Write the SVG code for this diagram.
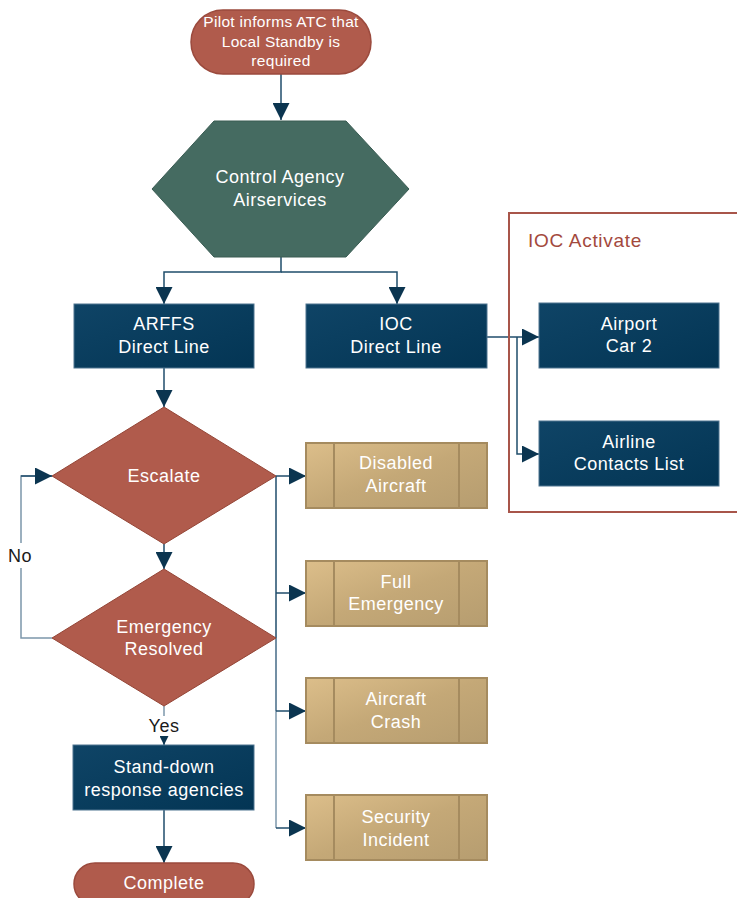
<svg xmlns="http://www.w3.org/2000/svg" width="737" height="898" viewBox="0 0 737 898">
<defs>
<linearGradient id="gBlue" x1="0" y1="0" x2="1" y2="1"><stop offset="0" stop-color="#0f4466"/><stop offset="1" stop-color="#033554"/></linearGradient>
<linearGradient id="gTan" x1="0" y1="0" x2="1" y2="1"><stop offset="0" stop-color="#dcbe8a"/><stop offset="0.5" stop-color="#c4a877"/><stop offset="1" stop-color="#b69d70"/></linearGradient>
<marker id="arr" viewBox="0 0 10 10" refX="10" refY="5" markerWidth="17" markerHeight="17" markerUnits="userSpaceOnUse" orient="auto"><path d="M0,0 L10,5 L0,10 Z" fill="#0b3550"/></marker>
<marker id="arrS" viewBox="0 0 10 10" refX="10" refY="5" markerWidth="9" markerHeight="9" markerUnits="userSpaceOnUse" orient="auto"><path d="M0,0 L10,5 L0,10 Z" fill="#0b3550"/></marker>
</defs>
<style>
text{font-family:"Liberation Sans",Arial,sans-serif;fill:#ffffff;text-anchor:middle}
.t17{font-size:18px;letter-spacing:0.5px}
.t15{font-size:15.5px;letter-spacing:0.3px}
.term{fill:#b05b4c;stroke:#9b4a3d;stroke-width:1.5}
.blue{fill:url(#gBlue);stroke:#4f7590;stroke-width:1}
.tan{fill:url(#gTan);stroke:#a58b5f;stroke-width:2}
.tanl{stroke:#a58b5f;stroke-width:2;fill:none}
.dia{fill:#b05b4c;stroke:#944536;stroke-width:1}
.con{fill:none;stroke:#1f4d6b;stroke-width:1.5}
.conl{fill:none;stroke:#7c97ab;stroke-width:1.5}
.lbl{fill:#1a1a1a}
</style>

<g id="connectors">
<path class="con" d="M281,74 V120" marker-end="url(#arr)"/>
<path class="con" d="M281,257 V272 H164 V304" marker-end="url(#arr)"/>
<path class="con" d="M281,272 H397 V304" marker-end="url(#arr)"/>
<path class="con" d="M487,337 H539" marker-end="url(#arr)"/>
<path class="con" d="M517,337 V454 H539" marker-end="url(#arr)"/>
<path class="con" d="M164,368 V407" marker-end="url(#arr)"/>
<path class="con" d="M164,544 V569" marker-end="url(#arr)"/>
<path class="conl" d="M52,638 H21 V568"/>
<path class="conl" d="M21,543 V476 H52" />
<path class="con" d="M21,476 H52" marker-end="url(#arr)"/>
<path class="conl" d="M164,706 V716"/>
<path class="con" d="M164,736 V745" marker-end="url(#arrS)"/>
<path class="con" d="M164,810 V863" marker-end="url(#arr)"/>
<path class="con" d="M276,476 V711"/>
<path class="conl" d="M276,638 V828"/>
<path class="con" d="M276,476 H306" marker-end="url(#arr)"/>
<path class="con" d="M276,593 H306" marker-end="url(#arr)"/>
<path class="con" d="M276,711 H306" marker-end="url(#arr)"/>
<path class="con" d="M276,828 H306" marker-end="url(#arr)"/>
<text class="t17 lbl" x="20" y="562">No</text>
<text class="t17 lbl" x="164" y="732">Yes</text>
</g>

<g id="ioc-activate">
<rect x="509" y="213" width="240" height="299" fill="none" stroke="#a8554a" stroke-width="2"/>
<text x="528" y="247" style="text-anchor:start;fill:#a3493d;font-size:19px;letter-spacing:0.7px">IOC Activate</text>
</g>

<g id="start">
<rect class="term" x="191" y="10" width="180" height="64" rx="32"/>
<text class="t15" x="281" y="27">Pilot informs ATC that</text>
<text class="t15" x="281" y="47">Local Standby is</text>
<text class="t15" x="281" y="66">required</text>
</g>

<g id="control-agency">
<polygon points="214,121 346,121 409,189 346,257 214,257 152,189" fill="#456b61" stroke="#3a5c53" stroke-width="1"/>
<text class="t17" x="280" y="183">Control Agency</text>
<text class="t17" x="280" y="206">Airservices</text>
</g>

<g id="arffs">
<rect class="blue" x="74" y="304" width="180" height="64"/>
<text class="t17" x="164" y="330">ARFFS</text>
<text class="t17" x="164" y="353">Direct Line</text>
</g>

<g id="ioc">
<rect class="blue" x="306" y="304" width="181" height="64"/>
<text class="t17" x="396" y="330">IOC</text>
<text class="t17" x="396" y="353">Direct Line</text>
</g>

<g id="airport-car">
<rect class="blue" x="539" y="303" width="180" height="65"/>
<text class="t17" x="629" y="330">Airport</text>
<text class="t17" x="629" y="352">Car 2</text>
</g>

<g id="airline-contacts">
<rect class="blue" x="539" y="421" width="180" height="65"/>
<text class="t17" x="629" y="448">Airline</text>
<text class="t17" x="629" y="470">Contacts List</text>
</g>

<g id="escalate">
<polygon class="dia" points="164,407 276,476 164,544 52,476"/>
<text class="t17" x="164" y="482">Escalate</text>
</g>

<g id="emergency-resolved">
<polygon class="dia" points="164,569 276,638 164,706 52,638"/>
<text class="t17" x="164" y="633">Emergency</text>
<text class="t17" x="164" y="655">Resolved</text>
</g>

<g id="disabled-aircraft">
<rect class="tan" x="306" y="443" width="181" height="65"/>
<path class="tanl" d="M334,443 V508 M459,443 V508"/>
<text class="t17" x="396" y="469">Disabled</text>
<text class="t17" x="396" y="492">Aircraft</text>
</g>

<g id="full-emergency">
<rect class="tan" x="306" y="561" width="181" height="65"/>
<path class="tanl" d="M334,561 V626 M459,561 V626"/>
<text class="t17" x="396" y="588">Full</text>
<text class="t17" x="396" y="610">Emergency</text>
</g>

<g id="aircraft-crash">
<rect class="tan" x="306" y="678" width="181" height="65"/>
<path class="tanl" d="M334,678 V743 M459,678 V743"/>
<text class="t17" x="396" y="705">Aircraft</text>
<text class="t17" x="396" y="728">Crash</text>
</g>

<g id="security-incident">
<rect class="tan" x="306" y="795" width="181" height="65"/>
<path class="tanl" d="M334,795 V860 M459,795 V860"/>
<text class="t17" x="396" y="823">Security</text>
<text class="t17" x="396" y="846">Incident</text>
</g>

<g id="stand-down">
<rect class="blue" x="73" y="745" width="181" height="65"/>
<text class="t17" x="164" y="773">Stand-down</text>
<text class="t17" x="164" y="796">response agencies</text>
</g>

<g id="complete">
<rect class="term" x="74" y="863" width="180" height="42" rx="21"/>
<text class="t17" x="164" y="889">Complete</text>
</g>
</svg>
